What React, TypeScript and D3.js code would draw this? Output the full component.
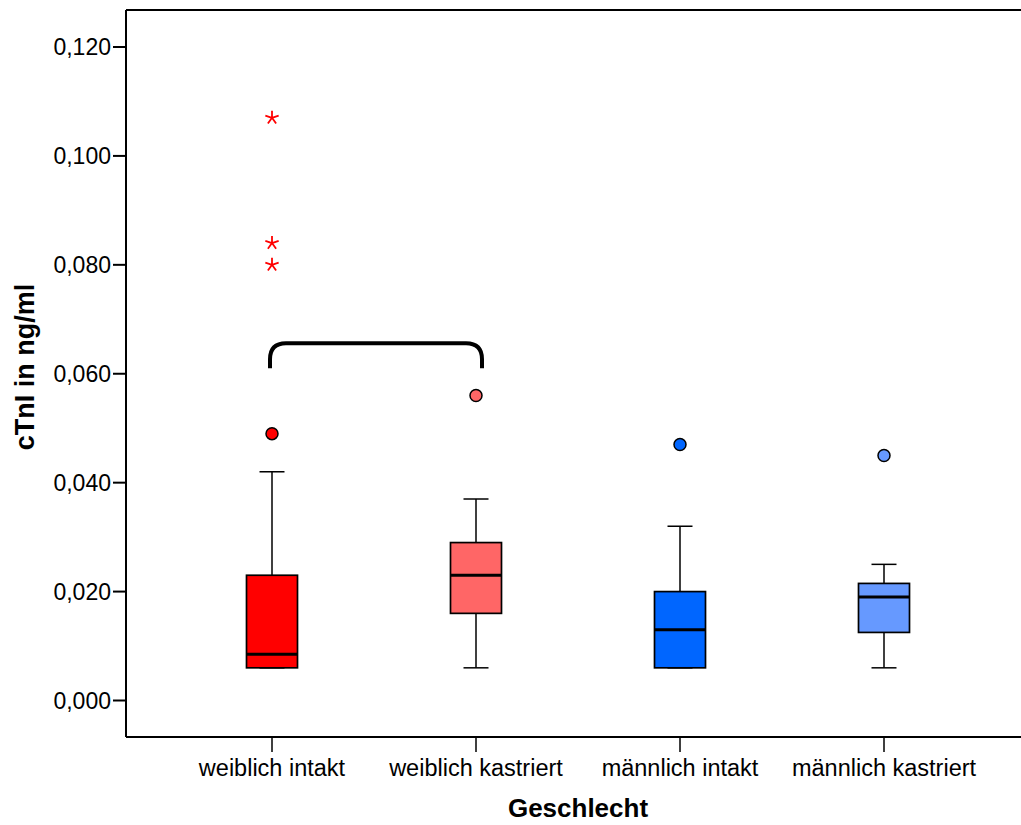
import React from 'react';
import * as d3 from 'd3';

const categories = ['weiblich intakt', 'weiblich kastriert', 'männlich intakt', 'männlich kastriert'];
const boxColors = ['#FF0000', '#FF6666', '#0066FF', '#6699FF'];
const q1 = [0.006, 0.016, 0.006, 0.0125];
const medians = [0.0085, 0.023, 0.013, 0.019];
const q3 = [0.023, 0.029, 0.02, 0.0215];
const whiskerLow = [0.006, 0.006, 0.006, 0.006];
const whiskerHigh = [0.042, 0.037, 0.032, 0.025];
const outliers = [[0.049], [0.056], [0.047], [0.045]];
const extremes = [[0.107, 0.084, 0.08], [], [], []];
const yTicks = [0, 0.02, 0.04, 0.06, 0.08, 0.1, 0.12];
const bracketTop = 0.0656;
const bracketEnd = 0.061;

const W = 1021;
const H = 825;
const left = 126;
const top = 10;
const bottom = 737;

export default function App() {
  const y = d3.scaleLinear().domain([0, 0.12]).range([700.5, 47]);
  const x = d3.scalePoint<string>().domain(categories).range([272, 884]);
  const fmt = (v: number) => d3.format('.3f')(v).replace('.', ',');
  const boxW = 51;
  const capW = 25;
  const font = '"Liberation Sans", Arial, sans-serif';

  const star = (cx: number, cy: number, r: number) => {
    const p = d3.path();
    for (let i = 0; i < 5; i++) {
      const a = -Math.PI / 2 + (i * 2 * Math.PI) / 5;
      p.moveTo(cx, cy);
      p.lineTo(cx + r * Math.cos(a), cy + r * Math.sin(a));
    }
    return p.toString();
  };

  const bx0 = x(categories[0])! - 2;
  const bx1 = x(categories[1])! + 6;
  const byTop = y(bracketTop);
  const byEnd = y(bracketEnd);
  const rad = 16;
  const bracket = `M${bx0},${byEnd} L${bx0},${byTop + rad} Q${bx0},${byTop} ${bx0 + rad},${byTop} L${bx1 - rad},${byTop} Q${bx1},${byTop} ${bx1},${byTop + rad} L${bx1},${byEnd}`;

  return (
    <svg width={W} height={H} style={{ position: 'absolute', left: 0, top: 0, background: '#fff' }} fontFamily={font}>
      <rect x={0} y={0} width={W} height={H} fill="#fff" />
      {/* frame */}
      <line x1={left} y1={top} x2={W} y2={top} stroke="#000" strokeWidth={2} />
      <line x1={left} y1={bottom} x2={W} y2={bottom} stroke="#000" strokeWidth={2} />
      <line x1={left} y1={top} x2={left} y2={bottom} stroke="#000" strokeWidth={2} />
      {/* y ticks */}
      {yTicks.map((t) => (
        <g key={t}>
          <line x1={left - 13} x2={left} y1={y(t)} y2={y(t)} stroke="#000" strokeWidth={2} />
          <text x={left - 15} y={y(t)} dy="0.36em" textAnchor="end" fontSize={23} fill="#000">
            {fmt(t)}
          </text>
        </g>
      ))}
      {/* x ticks */}
      {categories.map((c) => (
        <g key={c}>
          <line x1={x(c)} x2={x(c)} y1={bottom} y2={bottom + 15} stroke="#000" strokeWidth={1.5} />
          <text x={x(c)} y={776} textAnchor="middle" fontSize={23.5} fill="#000">
            {c}
          </text>
        </g>
      ))}
      {/* titles */}
      <text x={578} y={817} textAnchor="middle" fontSize={26} fontWeight="bold" fill="#000">
        Geschlecht
      </text>
      <text transform={`translate(34,367) rotate(-90)`} textAnchor="middle" fontSize={27} fontWeight="bold" fill="#000">
        cTnI in ng/ml
      </text>
      {/* boxes */}
      {categories.map((c, i) => {
        const cx = x(c)!;
        return (
          <g key={c}>
            <line x1={cx} x2={cx} y1={y(q3[i])} y2={y(whiskerHigh[i])} stroke="#000" strokeWidth={1.5} />
            <line x1={cx} x2={cx} y1={y(q1[i])} y2={y(whiskerLow[i])} stroke="#000" strokeWidth={1.5} />
            <line x1={cx - capW / 2} x2={cx + capW / 2} y1={y(whiskerHigh[i])} y2={y(whiskerHigh[i])} stroke="#000" strokeWidth={1.5} />
            <line x1={cx - capW / 2} x2={cx + capW / 2} y1={y(whiskerLow[i])} y2={y(whiskerLow[i])} stroke="#000" strokeWidth={1.5} />
            <rect
              x={cx - boxW / 2}
              y={y(q3[i])}
              width={boxW}
              height={y(q1[i]) - y(q3[i])}
              fill={boxColors[i]}
              stroke="#000"
              strokeWidth={1.7}
            />
            <line x1={cx - boxW / 2} x2={cx + boxW / 2} y1={y(medians[i])} y2={y(medians[i])} stroke="#000" strokeWidth={3} />
            {outliers[i].map((v, k) => (
              <circle key={k} cx={cx} cy={y(v)} r={6} fill={boxColors[i]} stroke="#000" strokeWidth={1.5} />
            ))}
            {extremes[i].map((v, k) => (
              <path key={k} d={star(cx, y(v), 7)} stroke={boxColors[i]} strokeWidth={1.8} fill="none" />
            ))}
          </g>
        );
      })}
      {/* significance bracket */}
      <path d={bracket} fill="none" stroke="#000" strokeWidth={4} />
    </svg>
  );
}
